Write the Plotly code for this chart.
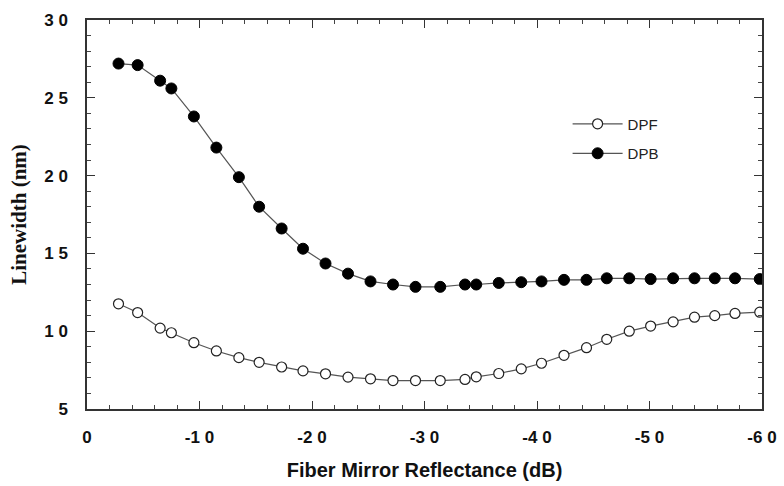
import plotly.graph_objects as go

reflectance = [-2.8, -4.5, -6.5, -7.5, -9.5, -11.5, -13.5, -15.3, -17.3, -19.2, -21.2, -23.2,
               -25.2, -27.2, -29.2, -31.4, -33.6, -34.6, -36.6, -38.6, -40.4, -42.4, -44.4,
               -46.2, -48.2, -50.1, -52.1, -54.0, -55.8, -57.6, -59.8]
dpb = [27.2, 27.1, 26.1, 25.6, 23.8, 21.8, 19.9, 18.0, 16.6, 15.3, 14.35, 13.7,
       13.2, 13.0, 12.85, 12.85, 13.0, 13.0, 13.1, 13.15, 13.2, 13.3, 13.3,
       13.4, 13.4, 13.35, 13.4, 13.4, 13.4, 13.4, 13.35]
dpf = [11.76, 11.2, 10.2, 9.9, 9.26, 8.73, 8.3, 8.0, 7.7, 7.45, 7.26, 7.05,
       6.94, 6.83, 6.83, 6.83, 6.9, 7.07, 7.28, 7.58, 7.94, 8.45, 8.94,
       9.48, 10.0, 10.33, 10.6, 10.9, 11.0, 11.14, 11.22]

x_tickvals = [0, -10, -20, -30, -40, -50, -60]
x_ticktext = ["0", "-1 0", "-2 0", "-3 0", "-4 0", "-5 0", "-6 0"]
y_tickvals = [5, 10, 15, 20, 25, 30]
y_ticktext = ["5", "1 0", "1 5", "2 0", "2 5", "3 0"]

line_col = "#555555"

fig = go.Figure()
fig.add_trace(go.Scatter(
    x=reflectance, y=dpf, name="DPF", mode="lines+markers", legendgroup="a",
    line=dict(color=line_col, width=1.2),
    marker=dict(symbol="circle", size=10, color="white",
                line=dict(color="#222222", width=1.2)),
))
fig.add_trace(go.Scatter(
    x=reflectance, y=dpb, name="DPB", mode="lines+markers", legendgroup="b",
    line=dict(color=line_col, width=1.2),
    marker=dict(symbol="circle", size=11, color="black",
                line=dict(color="black", width=1)),
))

tickfont = dict(family="Liberation Sans, Arial, sans-serif", size=17, color="#111111", weight="bold")

fig.update_layout(
    width=784, height=486,
    margin=dict(l=87, r=22, t=20, b=77),
    paper_bgcolor="white", plot_bgcolor="white",
    showlegend=True,
    legend=dict(x=0.712, y=0.775, xanchor="left", yanchor="top",
                bgcolor="rgba(0,0,0,0)",
                font=dict(family="Liberation Sans, Arial, sans-serif", size=15, color="#222222"),
                tracegroupgap=7, itemwidth=50),
    xaxis=dict(
        range=[0, -60], tickvals=x_tickvals, ticktext=x_ticktext,
        ticks="inside", ticklen=8, tickwidth=1.2, tickcolor="#333333",
        minor=dict(dtick=2, tick0=0, ticks="inside", ticklen=4, tickwidth=1, tickcolor="#444444"),
        showline=True, linecolor="#333333", linewidth=1.5, mirror="allticks",
        showgrid=False, zeroline=False, automargin=False,
        tickfont=tickfont, ticklabelstandoff=12,
        title=dict(text="Fiber Mirror Reflectance (dB)",
                   font=dict(family="Liberation Sans, Arial, sans-serif", size=20, color="#111111", weight="bold"),
                   standoff=17),
    ),
    yaxis=dict(
        range=[5, 30], tickvals=y_tickvals, ticktext=y_ticktext,
        ticks="inside", ticklen=8, tickwidth=1.2, tickcolor="#333333",
        minor=dict(dtick=1, tick0=5, ticks="inside", ticklen=4, tickwidth=1, tickcolor="#444444"),
        showline=True, linecolor="#333333", linewidth=1.5, mirror="allticks",
        showgrid=False, zeroline=False, automargin=False,
        tickfont=tickfont, ticklabelstandoff=14,
        title=dict(text="Linewidth (nm)",
                   font=dict(family="Liberation Serif, Times New Roman, serif", size=21, color="#111111", weight="bold"),
                   standoff=12),
    ),
)

fig.write_html("out.html")
